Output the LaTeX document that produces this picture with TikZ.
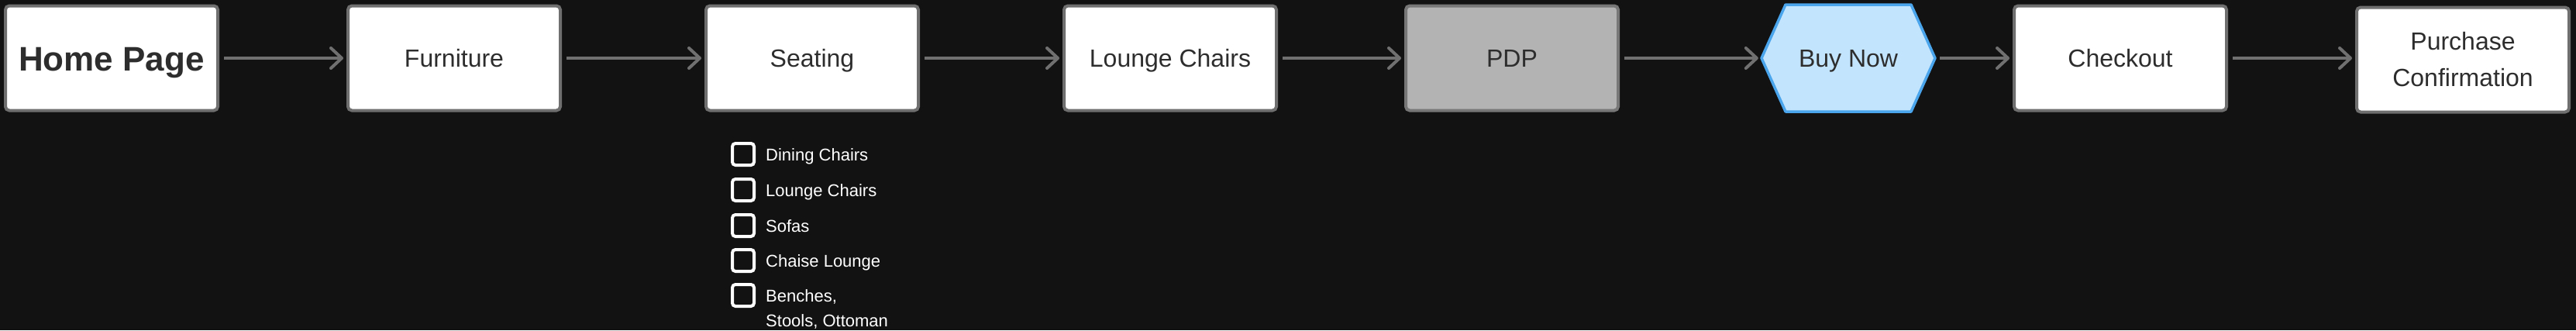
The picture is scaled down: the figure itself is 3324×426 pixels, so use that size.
\documentclass[tikz,border=0pt]{standalone}
\usepackage{fontspec}
\setmainfont{Liberation Sans}
\usetikzlibrary{arrows.meta,calc}
\definecolor{bgc}{HTML}{121212}
\definecolor{edgec}{HTML}{6F6F6F}
\definecolor{txtc}{HTML}{2D2D2D}
\definecolor{pdpfill}{HTML}{B3B3B3}
\definecolor{pdpedge}{HTML}{777777}
\definecolor{hexfill}{HTML}{C3E4FD}
\definecolor{hexedge}{HTML}{4AA5EC}
\definecolor{arrowc}{HTML}{707070}
\tikzset{
  pagebox/.style={draw=edgec, fill=white, line width=4pt, rounded corners=5pt,
    minimum width=274pt, minimum height=135pt, inner sep=0pt, text=txtc,
    font=\fontsize{32}{47}\selectfont, text height=23pt, text depth=0pt},
  twoline/.style={text height=, text depth=, align=center},
  pdpbox/.style={pagebox, fill=pdpfill, draw=pdpedge},
  hexlabel/.style={draw=none, minimum width=224pt, minimum height=138pt, inner sep=0pt,
    text=txtc, font=\fontsize{32}{47}\selectfont, text height=23pt, text depth=0pt},
  hexshape/.style={draw=hexedge, fill=hexfill, line width=3.5pt, line join=round},
  flow/.style={draw=arrowc, line width=4pt,
    -{Straight Barb[length=14pt,width=26pt,round]},
    shorten <=6pt, shorten >=4pt},
  checkbox/.style={draw=white, line width=4pt, rounded corners=4pt,
    minimum width=28pt, minimum height=28pt, inner sep=0pt},
  checklabel/.style={text=white, inner sep=0pt, anchor=base west,
    font=\fontsize{22}{32}\selectfont}
}
\begin{document}
\begin{tikzpicture}[x=1pt,y=-1pt]
\useasboundingbox (0,0) rectangle (3324,426);
\fill[bgc] (0,0) rectangle (3324,426);

\node[pagebox, font=\bfseries\fontsize{44}{52}\selectfont, text height=32pt] (home) at (144,75) {Home Page};
\node[pagebox] (furn) at (586,75) {Furniture};
\node[pagebox] (seat) at (1048,75) {Seating};
\node[pagebox] (lounge) at (1510,75) {Lounge Chairs};
\node[pdpbox] (pdp) at (1951,75) {PDP};

\coordinate (bc) at (2385,75);
\draw[hexshape] ($(bc)+(-112,0)$) -- ($(bc)+(-81,-69)$) -- ($(bc)+(81,-69)$)
  -- ($(bc)+(112,0)$) -- ($(bc)+(81,69)$) -- ($(bc)+(-81,69)$) -- cycle;
\node[hexlabel] (buy) at (bc) {Buy Now};

\node[pagebox] (checkout) at (2736,75) {Checkout};
\node[pagebox, twoline] (confirm) at (3178,77) {Purchase\\Confirmation};

\draw[flow] (home.east) -- (furn.west);
\draw[flow] (furn.east) -- (seat.west);
\draw[flow] (seat.east) -- (lounge.west);
\draw[flow] (lounge.east) -- (pdp.west);
\draw[flow] (pdp.east) -- (buy.west);
\draw[flow] (buy.east) -- (checkout.west);
\draw[flow] (checkout.east) -- (checkout.east -| confirm.west);

\node[checkbox] (cb1) at (959,199) {};
\node[checkbox] (cb2) at (959,245) {};
\node[checkbox] (cb3) at (959,291) {};
\node[checkbox] (cb4) at (959,336) {};
\node[checkbox] (cb5) at (959,381) {};
\node[checklabel] (l1) at (988,207) {Dining Chairs};
\node[checklabel] (l2) at (988,253) {Lounge Chairs};
\node[checklabel] (l3) at (988,299) {Sofas};
\node[checklabel] (l4) at (988,344) {Chaise Lounge};
\node[checklabel] (l5) at (988,389) {\begin{tabular}[t]{@{}l@{}}Benches,\\Stools, Ottoman\end{tabular}};
\end{tikzpicture}
\end{document}
